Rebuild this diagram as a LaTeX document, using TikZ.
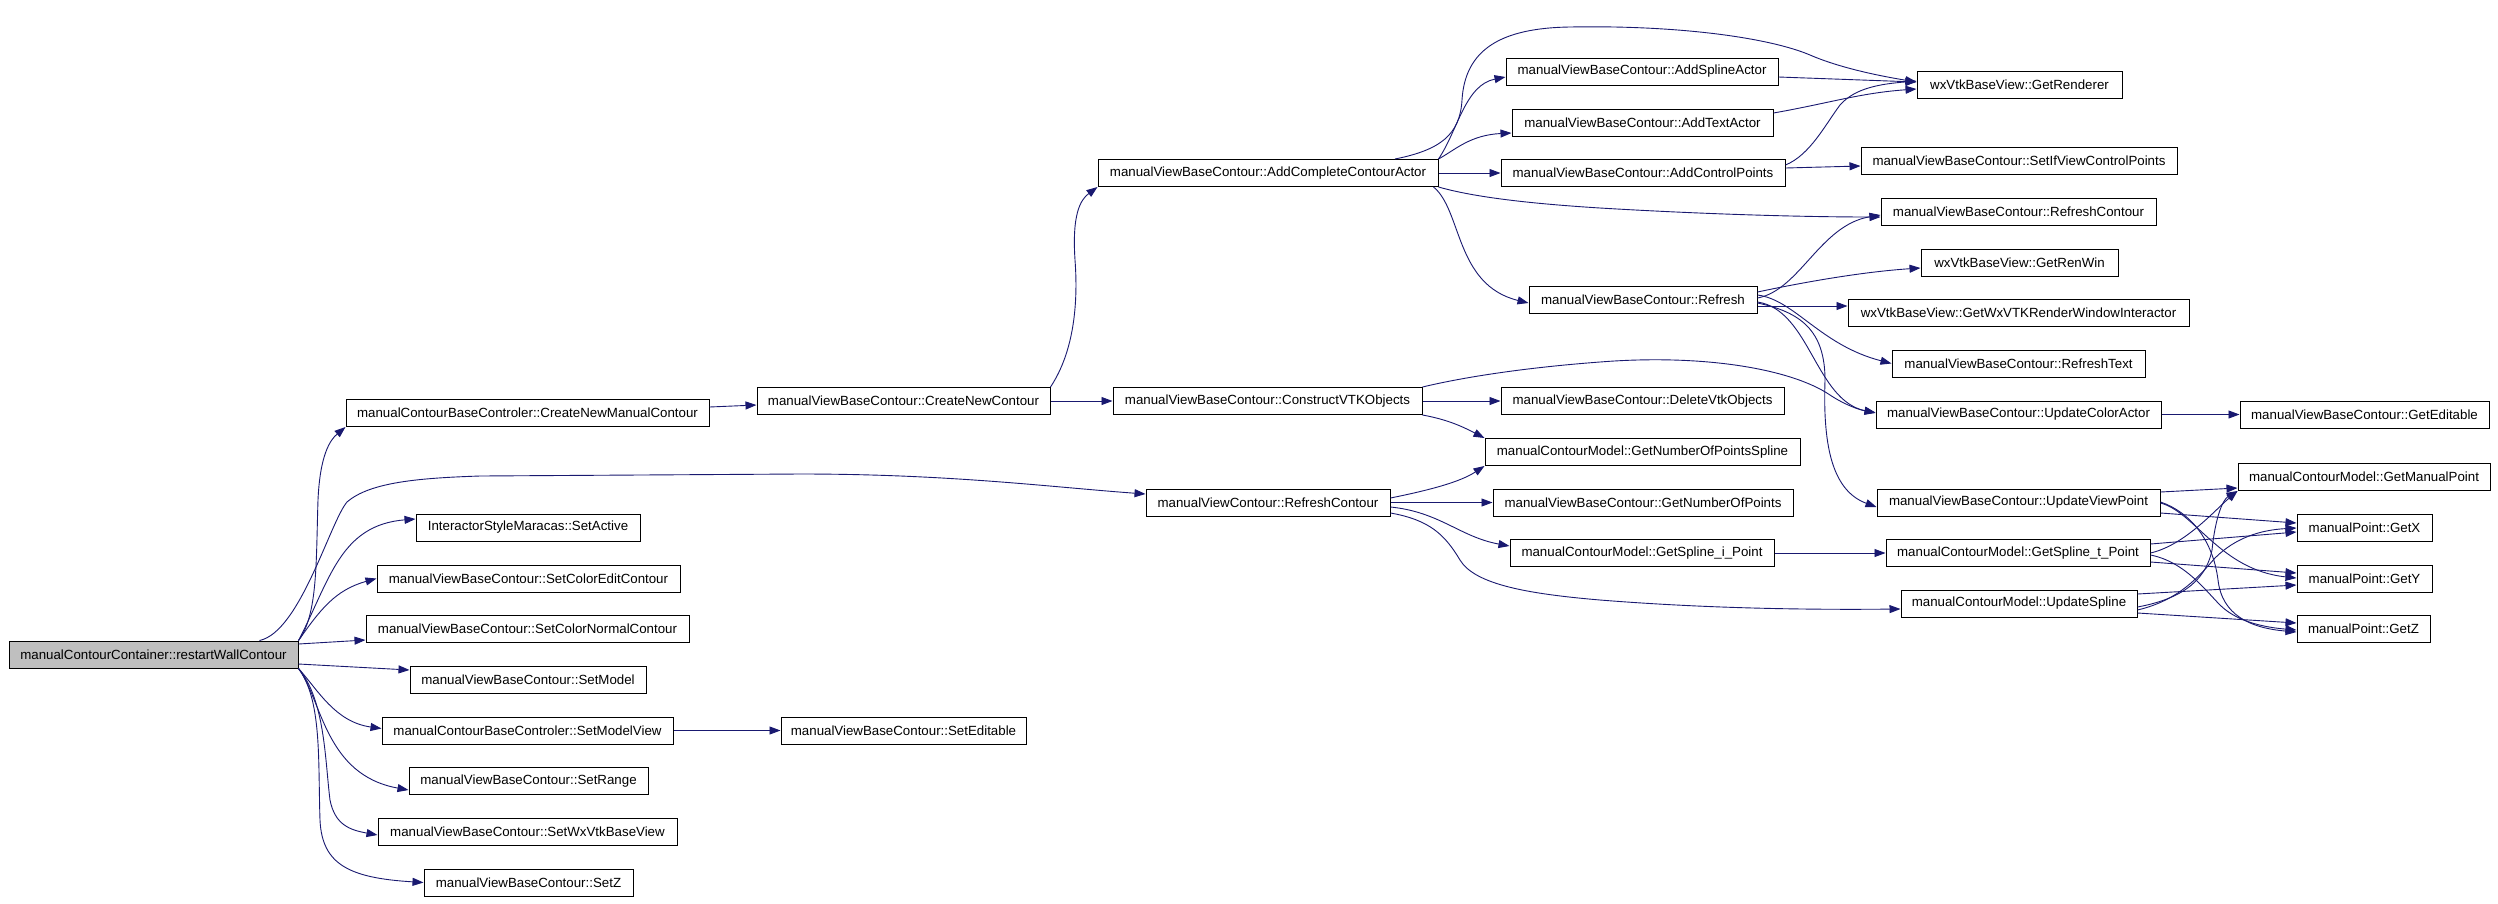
\documentclass[tikz,border=0pt]{standalone}
\usepackage{fontspec}
\setmainfont{Liberation Sans}
\usetikzlibrary{arrows.meta,calc}
\definecolor{edgeblue}{RGB}{25,25,112}
\definecolor{rootgray}{RGB}{191,191,191}
\begin{document}
\begin{tikzpicture}[x=1pt,y=-1pt,
  fn/.style={draw=black,line width=1pt,fill=white,minimum height=27pt,inner sep=0pt,font=\fontsize{13.3}{16}\selectfont,anchor=center},
  calledge/.style={draw=edgeblue,line width=0.9pt,-{Triangle[length=11pt,width=8pt]}}]
\useasboundingbox[fill=white] (0,0) rectangle (2498,903);
% nodes
\node[fn,minimum width=289pt,fill=rootgray] (root) at (153.5,654.5) {manualContourContainer::restartWallContour};
\node[fn,minimum width=363pt] (cnmc) at (527.5,413) {manualContourBaseControler::CreateNewManualContour};
\node[fn,minimum width=244pt] (rc) at (1268,502.5) {manualViewContour::RefreshContour};
\node[fn,minimum width=224pt] (setactive) at (528,527.5) {InteractorStyleMaracas::SetActive};
\node[fn,minimum width=303pt] (setcoloredit) at (528.5,578.5) {manualViewBaseContour::SetColorEditContour};
\node[fn,minimum width=323pt] (setcolornormal) at (527.5,629) {manualViewBaseContour::SetColorNormalContour};
\node[fn,minimum width=236pt] (setmodel) at (528,679.5) {manualViewBaseContour::SetModel};
\node[fn,minimum width=291pt] (setmodelview) at (527.5,730.5) {manualContourBaseControler::SetModelView};
\node[fn,minimum width=239pt] (setrange) at (528.5,781) {manualViewBaseContour::SetRange};
\node[fn,minimum width=299pt] (setwx) at (527.5,831.5) {manualViewBaseContour::SetWxVtkBaseView};
\node[fn,minimum width=209pt] (setz) at (528.5,882.5) {manualViewBaseContour::SetZ};
\node[fn,minimum width=245pt] (seteditable) at (903.5,730.5) {manualViewBaseContour::SetEditable};
\node[fn,minimum width=293pt] (cnc) at (903.5,401) {manualViewBaseContour::CreateNewContour};
\node[fn,minimum width=340pt] (acca) at (1268,173) {manualViewBaseContour::AddCompleteContourActor};
\node[fn,minimum width=309pt] (cvo) at (1267.5,401) {manualViewBaseContour::ConstructVTKObjects};
\node[fn,minimum width=272pt] (addspline) at (1642,71.5) {manualViewBaseContour::AddSplineActor};
\node[fn,minimum width=261pt] (addtext) at (1642.5,122.5) {manualViewBaseContour::AddTextActor};
\node[fn,minimum width=284pt] (addcontrol) at (1643,173) {manualViewBaseContour::AddControlPoints};
\node[fn,minimum width=228pt] (refresh) at (1643,299.5) {manualViewBaseContour::Refresh};
\node[fn,minimum width=283pt] (deletevtk) at (1642.5,401) {manualViewBaseContour::DeleteVtkObjects};
\node[fn,minimum width=315pt] (gnops) at (1642.5,452) {manualContourModel::GetNumberOfPointsSpline};
\node[fn,minimum width=300pt] (gnop) at (1643,502.5) {manualViewBaseContour::GetNumberOfPoints};
\node[fn,minimum width=264pt] (gsip) at (1642,553) {manualContourModel::GetSpline\_i\_Point};
\node[fn,minimum width=205pt] (getrenderer) at (2019.5,85) {wxVtkBaseView::GetRenderer};
\node[fn,minimum width=316pt] (setifview) at (2019,161) {manualViewBaseContour::SetIfViewControlPoints};
\node[fn,minimum width=275pt] (rcbase) at (2018.5,212) {manualViewBaseContour::RefreshContour};
\node[fn,minimum width=197pt] (getrenwin) at (2019.5,262.5) {wxVtkBaseView::GetRenWin};
\node[fn,minimum width=341pt] (getwx) at (2018.5,313) {wxVtkBaseView::GetWxVTKRenderWindowInteractor};
\node[fn,minimum width=253pt] (refreshtext) at (2018.5,363.5) {manualViewBaseContour::RefreshText};
\node[fn,minimum width=285pt] (updatecolor) at (2018.5,414.5) {manualViewBaseContour::UpdateColorActor};
\node[fn,minimum width=283pt] (uvp) at (2018.5,502.5) {manualViewBaseContour::UpdateViewPoint};
\node[fn,minimum width=264pt] (gstp) at (2018,553) {manualContourModel::GetSpline\_t\_Point};
\node[fn,minimum width=236pt] (uspline) at (2019,603.5) {manualContourModel::UpdateSpline};
\node[fn,minimum width=249pt] (geteditable) at (2364.5,414.5) {manualViewBaseContour::GetEditable};
\node[fn,minimum width=252pt] (getmanual) at (2364,477) {manualContourModel::GetManualPoint};
\node[fn,minimum width=135pt] (getx) at (2364.5,527.5) {manualPoint::GetX};
\node[fn,minimum width=135pt] (gety) at (2364.5,578.5) {manualPoint::GetY};
\node[fn,minimum width=133pt] (getz) at (2363.5,629) {manualPoint::GetZ};
% edges from root
\draw[calledge] (root.north east) .. controls (318,615) and (316,560) .. (318,500) .. controls (320,455) and (330,440) .. (cnmc.south west);
\draw[calledge] ($(root.north)+(106,0)$) .. controls (300,632) and (330,522) .. (347,502) .. controls (370,482) and (420,478) .. (480,476) -- (800,474) .. controls (950,474) and (1050,487) .. ($(rc.west)+(0,-8.5)$);
\draw[calledge] (root.north east) .. controls (330,580) and (340,525) .. ($(setactive.west)+(0,-8.5)$);
\draw[calledge] (root.north east) .. controls (320,610) and (335,590) .. (setcoloredit.west);
\draw[calledge] ($(root.east)+(0,-10.5)$) -- ($(setcolornormal.west)+(0,11)$);
\draw[calledge] ($(root.east)+(0,9.5)$) -- ($(setmodel.west)+(0,-9.5)$);
\draw[calledge] (root.south east) .. controls (318,690) and (335,722) .. ($(setmodelview.west)+(0,-2)$);
\draw[calledge] (root.south east) .. controls (322,700) and (325,775) .. ($(setrange.west)+(0,9)$);
\draw[calledge] (root.south east) .. controls (325,700) and (325,760) .. (330,800) .. controls (335,825) and (350,830) .. ($(setwx.west)+(0,3.5)$);
\draw[calledge] (root.south east) .. controls (322,700) and (318,760) .. (320,820) .. controls (322,865) and (350,878) .. (setz.west);
% second level
\draw[calledge] ($(cnmc.east)+(0,-6)$) -- ($(cnc.west)+(0,4)$);
\draw[calledge] (cnc.north east) .. controls (1075,350) and (1078,300) .. (1075,260) .. controls (1072,215) and (1080,200) .. (acca.south west);
\draw[calledge] (cnc.east) -- (cvo.west);
\draw[calledge] (setmodelview.east) -- (seteditable.west);
% from AddCompleteContourActor
\draw[calledge] ($(acca.north)+(127,0)$) .. controls (1440,150) and (1460,135) .. (1462,100) .. controls (1465,50) and (1500,28) .. (1570,27) .. controls (1680,25) and (1770,38) .. (1810,55) .. controls (1840,68) and (1880,76) .. ($(getrenderer.west)+(0,-3)$);
\draw[calledge] (acca.north east) .. controls (1458,130) and (1465,85) .. ($(addspline.west)+(0,5.5)$);
\draw[calledge] (acca.north east) .. controls (1455,150) and (1470,135) .. ($(addtext.west)+(0,10.5)$);
\draw[calledge] (acca.east) -- (addcontrol.west);
\draw[calledge] (acca.south east) .. controls (1470,196) and (1520,203) .. (1600,208) .. controls (1700,214) and (1800,217) .. ($(rcbase.west)+(0,5)$);
\draw[calledge] ($(acca.south east)+(-5,0)$) .. controls (1462,210) and (1455,285) .. ($(refresh.west)+(0,3.5)$);
% to GetRenderer / SetIfView
\draw[calledge] ($(addspline.east)+(0,5.5)$) -- ($(getrenderer.west)+(0,-3)$);
\draw[calledge] ($(addtext.east)+(0,-9.5)$) .. controls (1830,103) and (1860,93) .. ($(getrenderer.west)+(0,4)$);
\draw[calledge] ($(addcontrol.east)+(0,-8)$) .. controls (1810,155) and (1825,125) .. (1840,105) .. controls (1855,88) and (1880,84) .. ($(getrenderer.west)+(0,-4)$);
\draw[calledge] ($(addcontrol.east)+(0,-5)$) -- ($(setifview.west)+(0,5)$);
% from Refresh
\draw[calledge] ($(refresh.east)+(0,-1.5)$) .. controls (1800,290) and (1820,225) .. ($(rcbase.west)+(0,3)$);
\draw[calledge] ($(refresh.east)+(0,-7.5)$) .. controls (1800,283) and (1860,272) .. ($(getrenwin.west)+(0,5.5)$);
\draw[calledge] ($(refresh.east)+(0,6.5)$) -- ($(getwx.west)+(0,-7)$);
\draw[calledge] ($(refresh.east)+(0,-4.5)$) .. controls (1795,300) and (1820,345) .. (refreshtext.west);
\draw[calledge] ($(refresh.east)+(0,2.5)$) .. controls (1810,310) and (1815,400) .. ($(updatecolor.west)+(0,-1.5)$);
\draw[calledge] ($(refresh.east)+(0,3.5)$) .. controls (1800,312) and (1825,330) .. (1825,380) .. controls (1823,440) and (1830,490) .. ($(uvp.west)+(0,4.5)$);
% from ConstructVTKObjects
\draw[calledge] (cvo.north east) .. controls (1460,378) and (1520,368) .. (1600,362) .. controls (1700,354) and (1790,368) .. (1830,395) .. controls (1845,405) and (1860,410) .. ($(updatecolor.west)+(0,-2)$);
\draw[calledge] (cvo.east) -- (deletevtk.west);
\draw[calledge] (cvo.south east) .. controls (1450,420) and (1465,428) .. (gnops.north west);
% from manualViewContour::RefreshContour
\draw[calledge] ($(rc.east)+(0,-4.5)$) .. controls (1430,490) and (1460,482) .. (gnops.south west);
\draw[calledge] (rc.east) -- (gnop.west);
\draw[calledge] ($(rc.east)+(0,4.5)$) .. controls (1440,512) and (1460,537) .. ($(gsip.west)+(0,-7)$);
\draw[calledge] ($(rc.east)+(0,10.5)$) .. controls (1430,520) and (1445,535) .. (1460,560) .. controls (1475,585) and (1530,594) .. (1600,600) .. controls (1700,608) and (1800,610) .. ($(uspline.west)+(0,5.5)$);
% right column
\draw[calledge] (updatecolor.east) -- (geteditable.west);
\draw[calledge] (gsip.east) -- (gstp.west);
% UpdateViewPoint
\draw[calledge] ($(uvp.east)+(0,-10.5)$) -- ($(getmanual.west)+(0,11)$);
\draw[calledge] ($(uvp.east)+(0,10.5)$) -- ($(getx.west)+(0,-4.5)$);
\draw[calledge] ($(uvp.east)+(0,0.5)$) .. controls (2195,512) and (2220,570) .. ($(gety.west)+(0,-0.5)$);
\draw[calledge] ($(uvp.east)+(0,-0.5)$) .. controls (2190,512) and (2213,540) .. (2218,580) .. controls (2222,615) and (2250,628) .. ($(getz.west)+(0,3)$);
% GetSpline_t_Point
\draw[calledge] (gstp.east) .. controls (2185,545) and (2215,510) .. (getmanual.south west);
\draw[calledge] ($(gstp.east)+(0,-9)$) -- ($(getx.west)+(0,4.5)$);
\draw[calledge] ($(gstp.east)+(0,9)$) -- ($(gety.west)+(0,-5.5)$);
\draw[calledge] ($(gstp.east)+(0,2)$) .. controls (2185,562) and (2205,590) .. (2220,605) .. controls (2235,620) and (2260,627) .. ($(getz.west)+(0,1)$);
% UpdateSpline
\draw[calledge] ($(uspline.east)+(0,3.5)$) .. controls (2175,600) and (2205,585) .. (2212,550) .. controls (2215,520) and (2222,500) .. (getmanual.south west);
\draw[calledge] ($(uspline.east)+(0,6.5)$) .. controls (2180,600) and (2200,575) .. (2215,558) .. controls (2235,538) and (2260,530) .. ($(getx.west)+(0,0.5)$);
\draw[calledge] ($(uspline.east)+(0,-9.5)$) -- ($(gety.west)+(0,6.5)$);
\draw[calledge] ($(uspline.east)+(0,9.5)$) -- ($(getz.west)+(0,-6)$);
\end{tikzpicture}
\end{document}
